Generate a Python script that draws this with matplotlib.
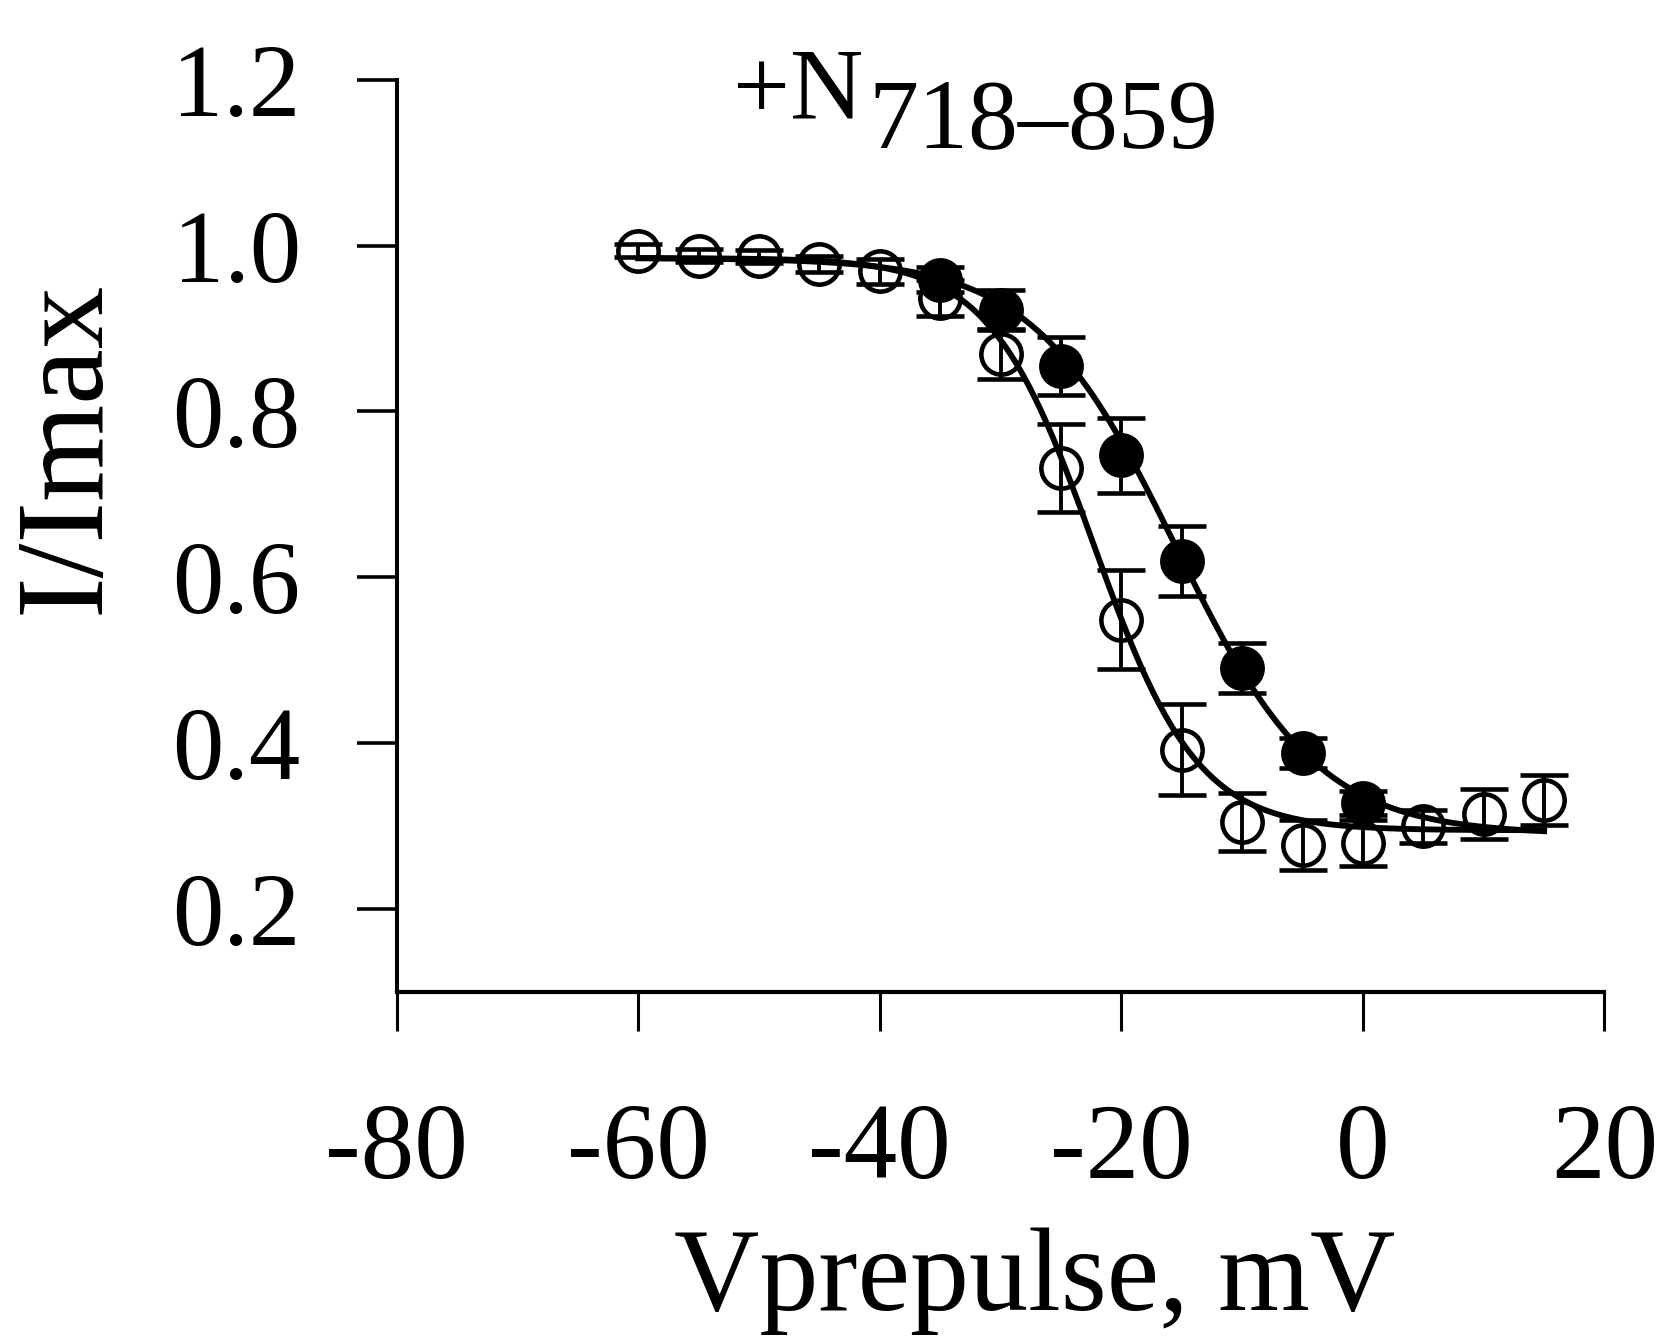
import numpy as np
import matplotlib
matplotlib.use('Agg')
import matplotlib.pyplot as plt

plt.rcParams.update({'font.family': 'Liberation Serif', 'axes.unicode_minus': False})

# prepulse voltages (mV)
v_open = [-60, -55, -50, -45, -40, -35, -30, -25, -20, -15, -10, -5, 0, 5, 10, 15]
i_open = [0.994, 0.988, 0.987, 0.978, 0.969, 0.937, 0.869, 0.732, 0.549, 0.392, 0.305, 0.277, 0.280, 0.300, 0.315, 0.332]
e_open = [0.008, 0.008, 0.008, 0.010, 0.015, 0.022, 0.030, 0.053, 0.060, 0.055, 0.035, 0.030, 0.028, 0.020, 0.030, 0.030]

v_fill = [-35, -30, -25, -20, -15, -10, -5, 0]
i_fill = [0.959, 0.922, 0.855, 0.747, 0.620, 0.491, 0.388, 0.328]
e_fill = [0.015, 0.024, 0.035, 0.045, 0.042, 0.030, 0.018, 0.015]

# Boltzmann fit parameters: top, bottom, V1/2, slope k
fit_open = (0.985, 0.295, -22.3, 4.3)
fit_fill = (0.985, 0.290, -15.5, 5.9)
fit_range = (-60, 15)


def boltz(v, p):
    a1, a2, vh, k = p
    return a2 + (a1 - a2) / (1 + np.exp((v - vh) / k))


W, H = 1667, 1337
fig = plt.figure(figsize=(W / 100, H / 100), dpi=100)
ax = fig.add_axes([0.2379, 0.2580, 0.7246, 0.6824])

vv = np.linspace(*fit_range, 300)
ax.plot(vv, boltz(vv, fit_fill), color='black', lw=4.2, zorder=2)
ax.plot(vv, boltz(vv, fit_open), color='black', lw=4.2, zorder=2)

eb = dict(fmt='o', ms=29, mec='black', mew=3.3, ecolor='black', elinewidth=2.8,
          capsize=17, capthick=2.7)
ax.errorbar(v_open, i_open, yerr=e_open, mfc='none', zorder=3, **eb)
ax.errorbar(v_fill, i_fill, yerr=e_fill, mfc='black', zorder=4, **eb)

ax.set_xlim(-80, 20)
ax.set_ylim(0.1, 1.2)
ax.set_xticks([-80, -60, -40, -20, 0, 20])
ax.set_yticks([0.2, 0.4, 0.6, 0.8, 1.0, 1.2])
ax.set_yticklabels(['0.2', '0.4', '0.6', '0.8', '1.0', '1.2'])
for s in ['top', 'right']:
    ax.spines[s].set_visible(False)
ax.spines['bottom'].set_linewidth(3)
ax.spines['left'].set_linewidth(2.9)
ax.tick_params(axis='x', direction='out', length=28, width=2.2, pad=52, labelsize=77)
ax.tick_params(axis='y', direction='out', length=29, width=2.6, pad=40, labelsize=74)

fig.text(1035 / W, 1 - 1310 / H, 'Vprepulse, mV', fontsize=85, ha='center', va='baseline')
fig.text(69 / W, 1 - 447 / H, 'I/Imax', fontsize=90, rotation=90, ha='center', va='center')

fig.text(733 / W, 1 - 118 / H, '+N', fontsize=73, ha='left', va='baseline')
fig.text(868 / W, 1 - 147 / H, '718\u2013859', fontsize=72, ha='left', va='baseline')

fig.savefig('out.png', dpi=100)
